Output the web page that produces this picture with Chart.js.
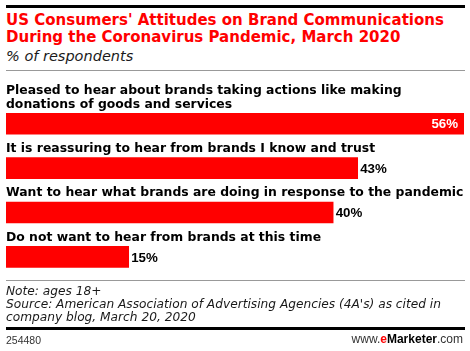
<!DOCTYPE html>
<html>
<head>
<meta charset="utf-8">
<script src="https://cdn.jsdelivr.net/npm/chart.js@4/dist/chart.umd.min.js"></script>
<style>
  html, body { margin: 0; padding: 0; background: #fff; }
  body { width: 470px; height: 351px; position: relative; overflow: hidden; }
  #wrap { position: absolute; left: 0; top: 0; width: 470px; height: 351px; }
  .t { position: absolute; white-space: nowrap; }
  .rule { position: absolute; left: 6px; width: 459px; }
</style>
</head>
<body>
<div class="rule" style="top:5px;height:3px;background:#000;"></div>
<div class="t" style="left:6px;top:12.2px;font:bold 15px 'DejaVu Sans';line-height:17.3px;color:#ff0000;">US Consumers' Attitudes on Brand Communications<br>During the Coronavirus Pandemic, March 2020</div>
<div class="t" style="left:6px;top:48.7px;font:oblique 14.5px 'DejaVu Sans';line-height:14.5px;color:#1a1a1a;">% of respondents</div>
<div class="rule" style="top:70px;height:1px;background:#999;"></div>
<div id="wrap"><canvas id="c" width="470" height="351"></canvas></div>
<div class="rule" style="top:280px;height:1px;background:#999;"></div>
<div class="t" style="left:6px;top:285px;font:oblique 12.2px 'DejaVu Sans';line-height:13px;color:#1a1a1a;">Note: ages 18+<br>Source: American Association of Advertising Agencies (4A's) as cited in<br>company blog, March 20, 2020</div>
<div class="rule" style="top:327px;height:3px;background:#000;"></div>
<div class="t" style="left:6px;top:335.1px;font:10.5px 'Liberation Sans';line-height:10.5px;color:#333;">254480</div>
<div class="t" style="right:7px;top:333.3px;font:12px 'Liberation Sans';line-height:12px;color:#333;">www.<b style="color:#ff0000">e</b><b style="color:#000">Marketer</b>.com</div>
<script>
const categories = [
  ["Pleased to hear about brands taking actions like making", "donations of goods and services"],
  ["It is reassuring to hear from brands I know and trust"],
  ["Want to hear what brands are doing in response to the pandemic"],
  ["Do not want to hear from brands at this time"]
];
const values = [56, 43, 40, 15];
const valueLabels = ["56%", "43%", "40%", "15%"];

const labelPlugin = {
  id: 'labelPlugin',
  afterDatasetsDraw(chart) {
    const ctx = chart.ctx;
    const meta = chart.getDatasetMeta(0);
    const area = chart.chartArea;
    ctx.save();
    meta.data.forEach((bar, i) => {
      const top = bar.y - bar.height / 2;
      // category label above bar
      ctx.font = "bold 12.4px 'DejaVu Sans'";
      ctx.fillStyle = '#000';
      ctx.textAlign = 'left';
      ctx.textBaseline = 'alphabetic';
      const lines = categories[i];
      for (let k = 0; k < lines.length; k++) {
        const y = top - 5.7 - (lines.length - 1 - k) * 14;
        ctx.fillText(lines[k], area.left, y);
      }
      // value label
      ctx.font = "bold 13.3px 'Liberation Sans'";
      const txt = valueLabels[i];
      const w = ctx.measureText(txt).width;
      const by = bar.y + 4.7;
      if (bar.x + 2.5 + w > area.right) {
        ctx.fillStyle = '#fff';
        ctx.textAlign = 'right';
        ctx.fillText(txt, bar.x - 6, by);
      } else {
        ctx.fillStyle = '#000';
        ctx.textAlign = 'left';
        ctx.fillText(txt, bar.x + 2.5, by);
      }
    });
    ctx.restore();
  }
};

new Chart(document.getElementById('c'), {
  type: 'bar',
  data: {
    labels: categories,
    datasets: [{
      data: values,
      backgroundColor: '#ff0000',
      borderWidth: 0,
      barThickness: 21
    }]
  },
  options: {
    indexAxis: 'y',
    responsive: false,
    animation: false,
    layout: { padding: { left: 6, right: 6, top: 101.6, bottom: 72 } },
    scales: {
      x: { display: false, min: 0, max: 56 },
      y: { display: false }
    },
    plugins: { legend: { display: false }, tooltip: { enabled: false } }
  },
  plugins: [labelPlugin]
});
</script>
</body>
</html>
